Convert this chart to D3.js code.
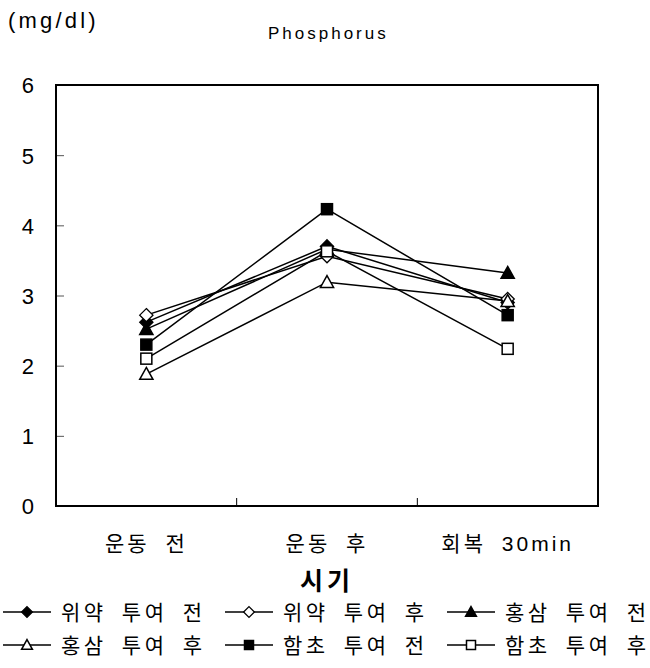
<!DOCTYPE html>
<html>
<head>
<meta charset="utf-8">
<script src="https://cdn.jsdelivr.net/npm/d3@7"></script>
<style>
  body { margin: 0; background: #fff; }
  svg { display: block; }
  text { font-family: "Liberation Sans", Arial, "Noto Sans CJK KR", sans-serif; fill: #000; }
</style>
</head>
<body>
<svg id="chart" width="650" height="668"></svg>
<script>
// Time points on the x axis
const categories = ["운동 전", "운동 후", "회복 30min"];
// Series names (legend order)
const seriesNames = ["위약 투여 전", "위약 투여 후", "홍삼 투여 전", "홍삼 투여 후", "함초 투여 전", "함초 투여 후"];
// Marker shape for each series
const seriesMarkers = ["diamondFilled", "diamondOpen", "triangleFilled", "triangleOpen", "squareFilled", "squareOpen"];
// Phosphorus values (mg/dl) per series at each time point
const placeboPre   = [2.62, 3.70, 2.90];
const placeboPost  = [2.72, 3.56, 2.95];
const ginsengPre   = [2.52, 3.66, 3.32];
const ginsengPost  = [1.88, 3.19, 2.92];
const salicorniaPre  = [2.30, 4.23, 2.72];
const salicorniaPost = [2.10, 3.63, 2.24];
const seriesValues = [placeboPre, placeboPost, ginsengPre, ginsengPost, salicorniaPre, salicorniaPost];
// Y axis ticks
const yTicks = [0, 1, 2, 3, 4, 5, 6];

const svg = d3.select("#chart");
const plot = { left: 56, right: 598, top: 85, bottom: 506 };

const x = d3.scaleBand().domain(categories).range([plot.left, plot.right]);
const y = d3.scaleLinear().domain([0, 6]).range([plot.bottom, plot.top]);
const cx = c => x(c) + x.bandwidth() / 2;

// Unit and title
svg.append("text").attr("x", 8).attr("y", 28).attr("font-size", 22).attr("letter-spacing", 3.2).text("(mg/dl)");
svg.append("text").attr("x", 268).attr("y", 39).attr("font-size", 17).attr("letter-spacing", 3).text("Phosphorus");

// Y axis: inward ticks on the left frame edge
const yAxis = d3.axisLeft(y).tickValues(yTicks).tickFormat(d3.format("d")).tickSize(0).tickPadding(0);
const gy = svg.append("g").attr("transform", `translate(${plot.left},0)`).call(yAxis);
gy.select(".domain").remove();
gy.selectAll("text").attr("x", -22).attr("font-size", 22).attr("dy", "0.36em")
  .style("font-family", "Liberation Sans, Arial, sans-serif");
gy.selectAll(".tick").filter(d => d > 0 && d < 6).append("line")
  .attr("x1", 0).attr("x2", 8).attr("stroke", "#555").attr("stroke-width", 1);

// X axis: boundary ticks between categories, pointing up into the plot
const xAxis = d3.axisBottom(x).tickSize(0).tickPadding(0);
const gx = svg.append("g").attr("transform", `translate(0,${plot.bottom})`).call(xAxis);
gx.select(".domain").remove();
gx.selectAll("text").attr("y", 45).attr("dy", 0).attr("font-size", 21)
  .attr("letter-spacing", 3).attr("word-spacing", 7)
  .style("font-family", "Liberation Sans, Noto Sans CJK KR, sans-serif");
categories.slice(1).forEach(c => {
  svg.append("line").attr("x1", x(c)).attr("x2", x(c))
    .attr("y1", plot.bottom).attr("y2", plot.bottom - 8)
    .attr("stroke", "#000").attr("stroke-width", 1);
});

// Frame
svg.append("rect").attr("x", plot.left).attr("y", plot.top)
  .attr("width", plot.right - plot.left).attr("height", plot.bottom - plot.top)
  .attr("fill", "none").attr("stroke", "#000").attr("stroke-width", 2);

// X axis title
svg.append("text").attr("x", 327).attr("y", 590).attr("text-anchor", "middle")
  .attr("font-size", 25).attr("font-weight", "bold").attr("letter-spacing", 4)
  .style("font-family", "Noto Sans CJK KR, sans-serif").text("시기");

// Marker drawing
function drawMarker(g, kind, px, py, s) {
  const filled = kind.endsWith("Filled");
  const fill = filled ? "#000" : "#fff";
  if (kind.startsWith("diamond")) {
    const r = s * 0.6;
    g.append("path").attr("d", `M${px},${py - r}L${px + r},${py}L${px},${py + r}L${px - r},${py}Z`)
      .attr("fill", fill).attr("stroke", "#000").attr("stroke-width", 1.3);
  } else if (kind.startsWith("triangle")) {
    const r = s * 0.6;
    g.append("path").attr("d", `M${px},${py - r}L${px + r},${py + r * 0.8}L${px - r},${py + r * 0.8}Z`)
      .attr("fill", fill).attr("stroke", "#000").attr("stroke-width", 1.5);
  } else {
    const r = s * 0.5;
    g.append("rect").attr("x", px - r).attr("y", py - r).attr("width", 2 * r).attr("height", 2 * r)
      .attr("fill", fill).attr("stroke", "#000").attr("stroke-width", 1.5);
  }
}

const line = d3.line().x((d, i) => cx(categories[i])).y(d => y(d));
const seriesG = svg.append("g");
seriesValues.forEach(vals => {
  seriesG.append("path").attr("d", line(vals)).attr("fill", "none")
    .attr("stroke", "#000").attr("stroke-width", 1.5);
});
seriesValues.forEach((vals, si) => {
  vals.forEach((v, i) => drawMarker(seriesG, seriesMarkers[si], cx(categories[i]), y(v), 11));
});

// Legend: two rows of three
const legendX = [3, 225, 447];
const legendY = [612, 645];
seriesNames.forEach((name, i) => {
  const lx = legendX[i % 3], ly = legendY[Math.floor(i / 3)];
  const g = svg.append("g");
  g.append("line").attr("x1", lx).attr("x2", lx + 48).attr("y1", ly).attr("y2", ly)
    .attr("stroke", "#000").attr("stroke-width", 1.5);
  drawMarker(g, seriesMarkers[i], lx + 24, ly, 9);
  g.append("text").attr("x", lx + 58).attr("y", ly + 8).attr("font-size", 21)
    .attr("letter-spacing", 3.5).attr("word-spacing", 7)
    .style("font-family", "Noto Sans CJK KR, sans-serif").text(name);
});
</script>
</body>
</html>
